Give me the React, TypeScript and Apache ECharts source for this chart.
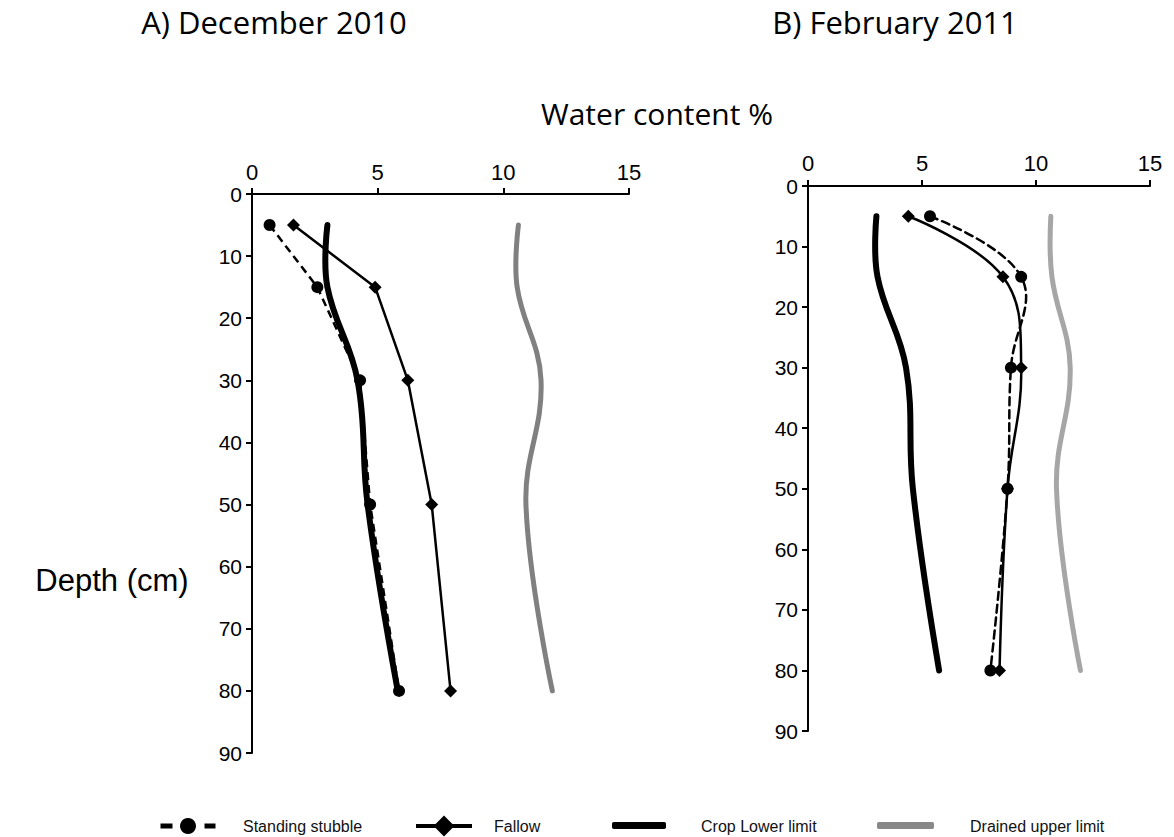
import { useEffect, useRef } from "react";
import * as echarts from "echarts";

// Depths (cm) at which water content was measured
const depths = [5, 15, 30, 50, 80];
const xTicks = { min: 0, max: 15, step: 5 };
const yTicks = { min: 0, max: 90, step: 10 };

// A) December 2010 — water content %
const decStubble = [0.7, 2.6, 4.3, 4.7, 5.85];
const decFallow = [1.65, 4.9, 6.2, 7.15, 7.9];
const decLowerLimit = [3.0, 3.0, 4.2, 4.6, 5.8];
const decUpperLimit = [10.6, 10.55, 11.5, 10.9, 11.95];

// B) February 2011 — water content %
const febStubble = [5.35, 9.35, 8.9, 8.75, 8.0];
const febFallow = [4.4, 8.55, 9.35, 8.75, 8.4];
const febLowerLimit = [3.0, 3.05, 4.3, 4.6, 5.75];
const febUpperLimit = [10.65, 10.7, 11.5, 10.9, 11.95];

const seriesNames = ["Standing stubble", "Fallow", "Crop Lower limit", "Drained upper limit"];
const titles = ["A) December 2010", "B) February 2011"];
const xAxisTitle = "Water content %";
const yAxisTitle = "Depth (cm)";

const pairs = (vals: number[]) => vals.map((v, i) => [v, depths[i]]);

export default function App() {
  const ref = useRef<HTMLDivElement>(null);

  useEffect(() => {
    document.body.style.margin = "0";
    const chart = echarts.init(ref.current as HTMLDivElement, null, { renderer: "svg" });
    const axisFont = "'Liberation Sans', Arial, sans-serif";
    const titleFont = "'Open Sans', sans-serif";

    const grids = [
      { left: 252, top: 194, width: 377, height: 559 },
      { left: 808, top: 186, width: 342, height: 545 },
    ];

    const axisLine = { show: true, onZero: false, lineStyle: { color: "#000", width: 2 } };
    const axisTick = { show: true, inside: false, length: 6, lineStyle: { color: "#000", width: 2 } };

    const xAxis = grids.map((_, i) => ({
      type: "value",
      gridIndex: i,
      position: "top",
      min: xTicks.min,
      max: xTicks.max,
      interval: xTicks.step,
      axisLine,
      axisTick,
      axisLabel: { color: "#000", fontSize: 22, fontFamily: axisFont, margin: i === 0 ? 11 : 12 },
      splitLine: { show: false },
    }));

    const yAxis = grids.map((_, i) => ({
      type: "value",
      gridIndex: i,
      inverse: true,
      min: yTicks.min,
      max: yTicks.max,
      interval: yTicks.step,
      axisLine,
      axisTick,
      axisLabel: { color: "#000", fontSize: 21, fontFamily: axisFont, margin: 10 },
      splitLine: { show: false },
    }));

    // Smooth curve drawn through the data points (converted with the axes' scales)
    const curve = (
      name: string,
      idx: number,
      vals: number[],
      color: string,
      width: number,
      dash?: number[]
    ) => ({
      name,
      type: "custom",
      xAxisIndex: idx,
      yAxisIndex: idx,
      data: pairs(vals),
      silent: true,
      z: 2,
      renderItem: (params: any, api: any) => {
        if (params.dataIndex !== 0) return null;
        const pts = vals.map((v, i) => api.coord([v, depths[i]]));
        return {
          type: "polyline",
          shape: { points: pts, smooth: 0.4 },
          style: {
            stroke: color,
            lineWidth: width,
            fill: "none",
            lineDash: dash || null,
            lineCap: "round",
            lineJoin: "round",
          },
        };
      },
    });

    const markers = (
      name: string,
      idx: number,
      vals: number[],
      symbol: string,
      size: number,
      showLine: boolean,
      dashed: boolean
    ) => ({
      name,
      type: "line",
      xAxisIndex: idx,
      yAxisIndex: idx,
      data: pairs(vals),
      symbol,
      symbolSize: size,
      lineStyle: {
        color: "#000",
        width: showLine ? 2.5 : 0,
        opacity: showLine ? 1 : 0,
        type: dashed ? [8, 5] : "solid",
      },
      itemStyle: { color: "#000" },
      z: 3,
    });

    const legendText = { color: "#111", fontSize: 16, fontFamily: axisFont };
    const legendY = 826;

    chart.setOption({
      animation: false,
      backgroundColor: "#fff",
      grid: grids.map((g) => ({ ...g, containLabel: false })),
      xAxis,
      yAxis,
      series: [
        // December 2010
        curve(seriesNames[2], 0, decLowerLimit, "#000", 6),
        curve(seriesNames[3], 0, decUpperLimit, "#808080", 5),
        markers(seriesNames[0], 0, decStubble, "circle", 12, true, true),
        markers(seriesNames[1], 0, decFallow, "diamond", 13, true, false),
        // February 2011
        curve(seriesNames[2], 1, febLowerLimit, "#000", 6),
        curve(seriesNames[3], 1, febUpperLimit, "#a6a6a6", 5),
        curve("stubble-curve", 1, febStubble, "#000", 2.5, [8, 5]),
        curve("fallow-curve", 1, febFallow, "#000", 2.5),
        markers(seriesNames[0], 1, febStubble, "circle", 12, false, true),
        markers(seriesNames[1], 1, febFallow, "diamond", 13, false, false),
      ],
      legend: [
        {
          data: [seriesNames[0]],
          left: 158,
          top: legendY - 10,
          padding: 0,
          itemWidth: 55,
          itemHeight: 20,
          selectedMode: false,
          formatter: () => "",
          lineStyle: { width: 5, type: [12, 32], color: "#000", opacity: 1 },
          itemStyle: { color: "#000" },
          textStyle: legendText,
        },
        {
          data: [seriesNames[1]],
          left: 414,
          top: legendY - 13,
          padding: 0,
          itemWidth: 56,
          itemHeight: 26,
          selectedMode: false,
          formatter: () => "",
          lineStyle: { width: 4, type: "solid", color: "#000", opacity: 1 },
          itemStyle: { color: "#000" },
          textStyle: legendText,
        },
        {
          data: [{ name: seriesNames[2], icon: "roundRect" }],
          left: 612,
          top: legendY - 4,
          padding: 0,
          itemWidth: 54,
          itemHeight: 7,
          selectedMode: false,
          formatter: () => "",
          itemStyle: { color: "#000" },
          textStyle: legendText,
        },
        {
          data: [{ name: seriesNames[3], icon: "roundRect" }],
          left: 877,
          top: legendY - 4,
          padding: 0,
          itemWidth: 57,
          itemHeight: 7,
          selectedMode: false,
          formatter: () => "",
          itemStyle: { color: "#888" },
          textStyle: legendText,
        },
      ],
      graphic: [
        {
          type: "text",
          x: 274,
          y: 22,
          style: { text: titles[0], fontSize: 31, fontFamily: titleFont, fill: "#000", align: "center", verticalAlign: "middle" },
        },
        {
          type: "text",
          x: 895,
          y: 22,
          style: { text: titles[1], fontSize: 31, fontFamily: titleFont, fill: "#000", align: "center", verticalAlign: "middle" },
        },
        {
          type: "text",
          x: 657,
          y: 113,
          style: { text: xAxisTitle, fontSize: 30, fontFamily: titleFont, fill: "#000", align: "center", verticalAlign: "middle" },
        },
        {
          type: "text",
          x: 112,
          y: 580,
          style: { text: yAxisTitle, fontSize: 31, fontFamily: axisFont, fill: "#000", align: "center", verticalAlign: "middle" },
        },
        ...[
          { x: 243, t: seriesNames[0] },
          { x: 494, t: seriesNames[1] },
          { x: 701, t: seriesNames[2] },
          { x: 970, t: seriesNames[3] },
        ].map((l) => ({
          type: "text",
          x: l.x,
          y: legendY,
          style: { text: l.t, ...legendText, fill: "#111", align: "left", verticalAlign: "middle" },
        })),
      ],
    });

    return () => chart.dispose();
  }, []);

  return <div ref={ref} style={{ width: 1174, height: 837 }} />;
}
